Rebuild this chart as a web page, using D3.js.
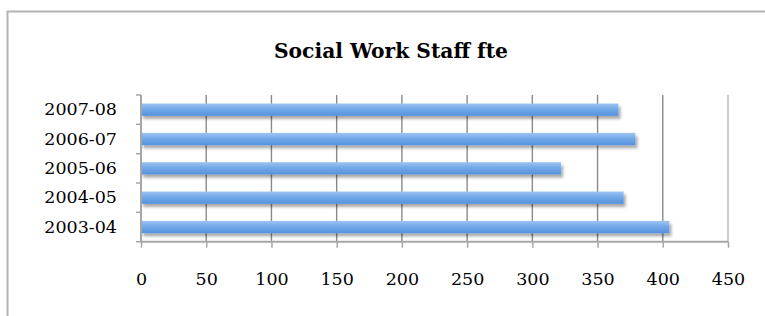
<!DOCTYPE html>
<html>
<head>
<meta charset="utf-8">
<script src="https://cdn.jsdelivr.net/npm/d3@7"></script>
<style>
  body { margin: 0; background: #fff; }
  svg { display: block; }
</style>
</head>
<body>
<div id="chart"></div>
<script>
// Data
var years = ["2003-04", "2004-05", "2005-06", "2006-07", "2007-08"];
var staff = [405, 370, 322, 379, 366];
var xTicks = [0, 50, 100, 150, 200, 250, 300, 350, 400, 450];

var svgWidth = 765;
var svgHeight = 316;

var margin = { top: 95, right: 37, bottom: 74.3, left: 141 };
var width = svgWidth - margin.left - margin.right;
var height = svgHeight - margin.top - margin.bottom;

var svg = d3.select("#chart")
  .append("svg")
  .attr("width", svgWidth)
  .attr("height", svgHeight);

var defs = svg.append("defs");

var grad = defs.append("linearGradient")
  .attr("id", "barFill")
  .attr("x1", 0).attr("y1", 0).attr("x2", 0).attr("y2", 1);
grad.append("stop").attr("offset", "0%").attr("stop-color", "#9cc4f2");
grad.append("stop").attr("offset", "45%").attr("stop-color", "#73a9e8");
grad.append("stop").attr("offset", "100%").attr("stop-color", "#5592dc");

var shadow = defs.append("filter")
  .attr("id", "shadow")
  .attr("x", "-5%").attr("y", "-50%")
  .attr("width", "110%").attr("height", "220%");
shadow.append("feDropShadow")
  .attr("dx", 2).attr("dy", 3)
  .attr("stdDeviation", 1.6)
  .attr("flood-color", "#000")
  .attr("flood-opacity", 0.35);

// chart area border (bottom and right edges fall outside the picture)
svg.append("rect")
  .attr("x", 7.5).attr("y", 11.5)
  .attr("width", 770).attr("height", 320)
  .attr("fill", "none")
  .attr("stroke", "#b3b3b3")
  .attr("stroke-width", 2);

// title
svg.append("text")
  .attr("x", 391)
  .attr("y", 58)
  .attr("text-anchor", "middle")
  .style("font-family", "'DejaVu Serif', serif")
  .style("font-weight", "bold")
  .style("font-size", "20.5px")
  .attr("textLength", 234)
  .attr("lengthAdjust", "spacingAndGlyphs")
  .text("Social Work Staff fte");

var chartGroup = svg.append("g")
  .attr("transform", `translate(${margin.left}, ${margin.top})`);

// Scales
var xLinearScale = d3.scaleLinear()
  .domain([0, 450])
  .range([0, width]);

var yBandScale = d3.scaleBand()
  .domain(years.slice().reverse())
  .range([0, height])
  .paddingInner(0.58)
  .paddingOuter(0.29);

// vertical gridlines
chartGroup.append("g")
  .selectAll("line")
  .data(xTicks.slice(1))
  .enter()
  .append("line")
  .attr("x1", d => xLinearScale(d))
  .attr("x2", d => xLinearScale(d))
  .attr("y1", 0)
  .attr("y2", height)
  .attr("stroke", d => d === 450 ? "#b5b5b5" : "#8a8a8a")
  .attr("stroke-width", 1.4);

// bars
chartGroup.append("g")
  .selectAll("rect")
  .data(years)
  .enter()
  .append("rect")
  .attr("x", 0)
  .attr("y", d => yBandScale(d))
  .attr("width", (d, i) => xLinearScale(staff[i]))
  .attr("height", yBandScale.bandwidth())
  .attr("fill", "url(#barFill)")
  .attr("filter", "url(#shadow)");

// Axes
var bottomAxis = d3.axisBottom(xLinearScale)
  .tickValues(xTicks)
  .tickSize(6)
  .tickPadding(25);

var leftAxis = d3.axisLeft(yBandScale)
  .tickSize(0)
  .tickPadding(24);

var xAxisG = chartGroup.append("g")
  .attr("transform", `translate(0, ${height})`)
  .call(bottomAxis);

var yAxisG = chartGroup.append("g")
  .call(leftAxis);

[xAxisG, yAxisG].forEach(function(g) {
  g.select(".domain").attr("stroke", "#a6a6a6").attr("stroke-width", 2);
  g.selectAll(".tick line").attr("stroke", "#a6a6a6").attr("stroke-width", 1.5);
  g.selectAll("text")
    .style("font-family", "'DejaVu Serif', serif")
    .style("font-size", "17.5px")
    .attr("fill", "#000");
});
xAxisG.select(".domain").attr("d", `M0,0H${width}`);
yAxisG.select(".domain").attr("d", `M0,0V${height}`);

// category boundary ticks on the y axis
yAxisG.append("g")
  .selectAll("line")
  .data(d3.range(years.length + 1))
  .enter()
  .append("line")
  .attr("x1", -5)
  .attr("x2", 0)
  .attr("y1", i => i * yBandScale.step())
  .attr("y2", i => i * yBandScale.step())
  .attr("stroke", "#a6a6a6")
  .attr("stroke-width", 1.5);
</script>
</body>
</html>
